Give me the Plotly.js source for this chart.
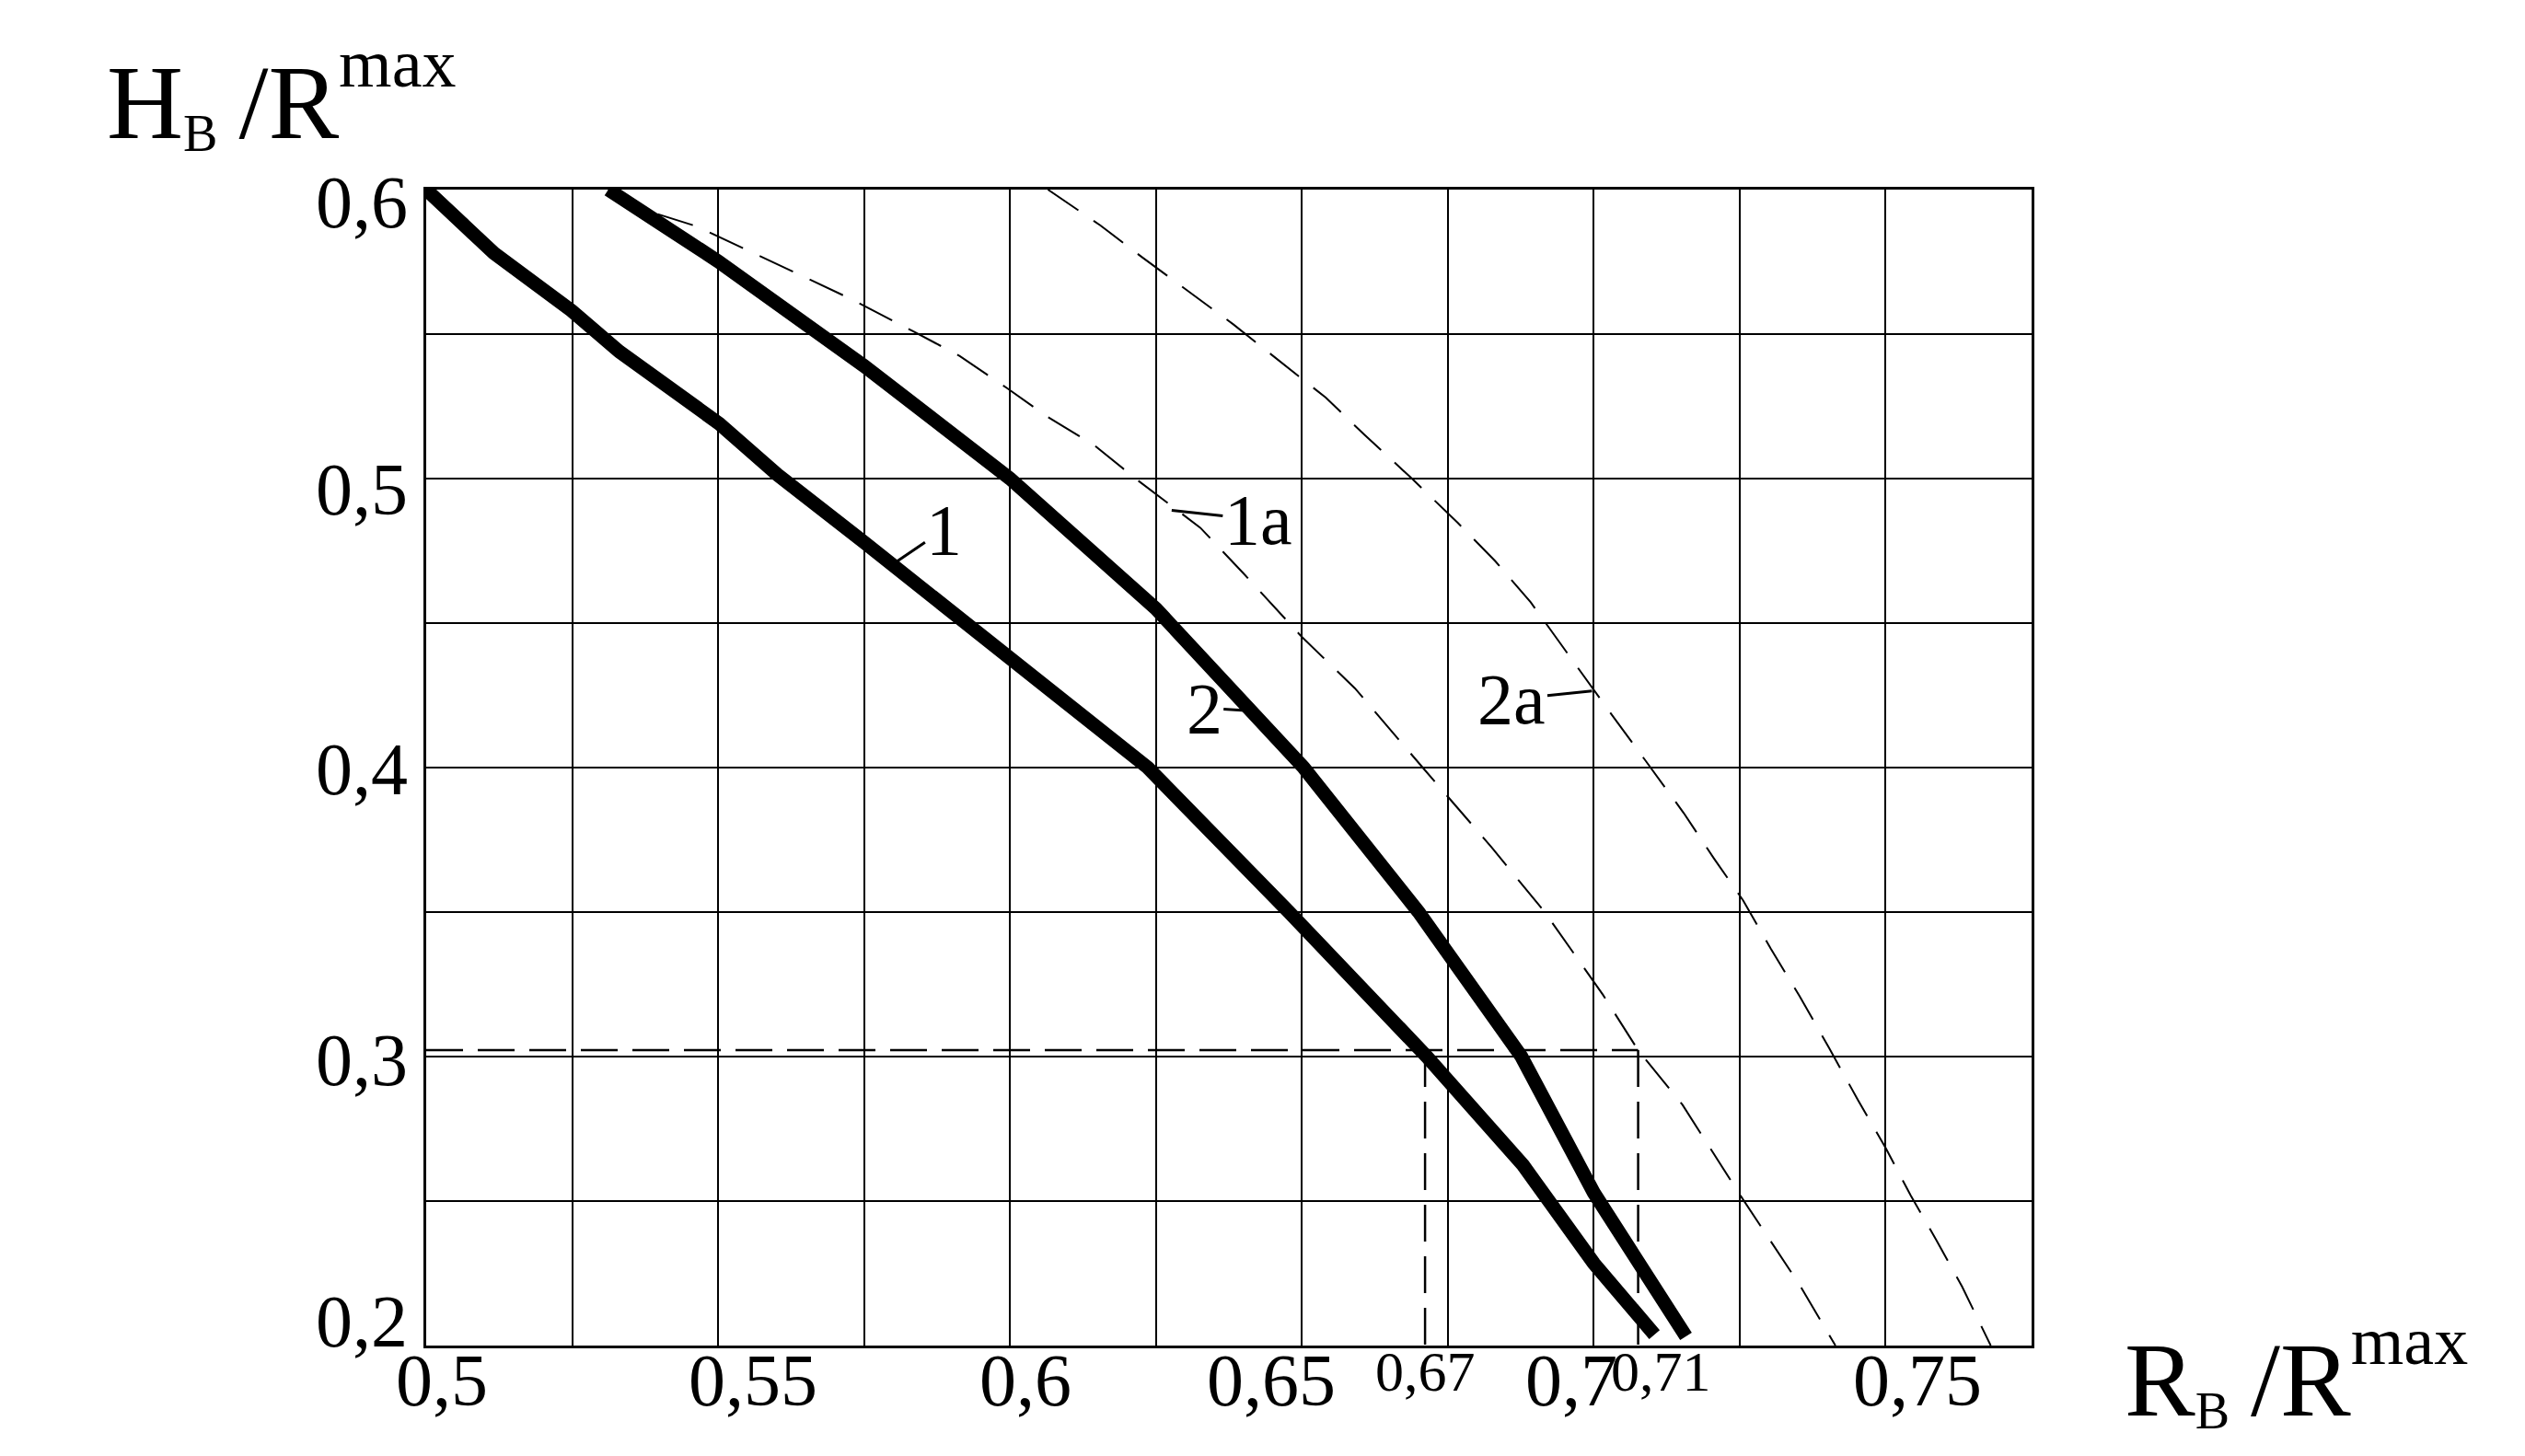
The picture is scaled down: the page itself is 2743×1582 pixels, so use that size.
<!DOCTYPE html>
<html>
<head>
<meta charset="utf-8">
<script src="https://cdn.plot.ly/plotly-3.0.1.min.js"></script>
<style>html,body{margin:0;padding:0;background:#fff;}#chart{width:2743px;height:1582px;}</style>
</head>
<body>
<div id="chart"></div>
<script>
// ---- data ----
const curve1X = [0.5, 0.5116, 0.5249, 0.5331, 0.5502, 0.5602, 0.5751, 0.5924, 0.6001, 0.6104, 0.6236, 0.6478, 0.6714, 0.6879, 0.7, 0.7104];
const curve1Y = [0.6, 0.578, 0.5581, 0.5439, 0.519, 0.5013, 0.4778, 0.4501, 0.4381, 0.4217, 0.4, 0.35, 0.3, 0.2624, 0.2285, 0.2038];

const curve2X = [0.5312, 0.55, 0.575, 0.6, 0.625, 0.6406, 0.6503, 0.67, 0.675, 0.6876, 0.7, 0.708, 0.7158];
const curve2Y = [0.6, 0.5752, 0.539, 0.5, 0.455, 0.4216, 0.4, 0.35, 0.336, 0.3, 0.2529, 0.2278, 0.2032];

const curve1aX = [0.5312, 0.5383, 0.5463, 0.5553, 0.5634, 0.5724, 0.5834, 0.5914, 0.5995, 0.6065, 0.6146, 0.6215, 0.6326, 0.64, 0.65, 0.6591, 0.6707, 0.6825, 0.6916, 0.7016, 0.7076, 0.7152, 0.725, 0.7352, 0.7414];
const curve1aY = [0.6, 0.5924, 0.5873, 0.5787, 0.571, 0.5625, 0.551, 0.5424, 0.5313, 0.5213, 0.5113, 0.5, 0.483, 0.4672, 0.4452, 0.4274, 0.4, 0.3724, 0.35, 0.3213, 0.3022, 0.2833, 0.2523, 0.2212, 0.2];

const curve2aX = [0.6065, 0.6155, 0.6225, 0.6296, 0.6383, 0.6446, 0.6541, 0.6607, 0.6689, 0.6767, 0.6831, 0.6892, 0.697, 0.7026, 0.7089, 0.7154, 0.7206, 0.7256, 0.7303, 0.7352, 0.7403, 0.7453, 0.75, 0.7543, 0.7586, 0.7631, 0.768];
const curve2aY = [0.6, 0.5876, 0.5768, 0.5663, 0.5533, 0.5432, 0.528, 0.5152, 0.4999, 0.4847, 0.4715, 0.4572, 0.4352, 0.4196, 0.4023, 0.3843, 0.3685, 0.354, 0.3374, 0.3211, 0.303, 0.2848, 0.2684, 0.2519, 0.2368, 0.2204, 0.2];

// guide lines (dashed) : level and the two read-off abscissas
const guideLevel = 0.3022;
const guideXs = [0.6711, 0.7076];

// axes
const xRange = [0.5, 0.775];
const yRange = [0.2, 0.6];
const xTickVals = [0.5, 0.55, 0.6, 0.65, 0.67, 0.70, 0.71, 0.75];
const xTickText = ['0,5', '0,55', '0,6', '0,65', '0,67', '0,7', '0,71', '0,75'];
const yTickVals = [0.2, 0.3, 0.4, 0.5, 0.6];
const yTickText = ['0,2', '0,3', '0,4', '0,5', '0,6'];

// curve labels: name, anchor point on curve
const curveLabelText = ['1', '1a', '2', '2a'];
const curveLabelX = [0.5804, 0.6277, 0.641, 0.6997];
const curveLabelY = [0.471, 0.489, 0.4197, 0.4265];

// axis title parts: main, subscript, main, superscript
const yTitleParts = ['H', 'B', '\u2009/R', 'max'];
const xTitleParts = ['R', 'B', '\u2009/R', 'max'];

// ---- styles ----
const FONT = 'Liberation Serif, Times New Roman, serif';
const xTickSize = [80, 80, 80, 80, 62, 80, 62, 80];
const xTickShift = [17, 38, 17, -33, 7, -24, 10, 35];
const yTickShift = [26, -4, -2, -12, -14];
const labelOffsetX = [53, 94, -49, -87];
const labelOffsetY = [-36, 10, -3, 9];

const thick = {color: '#000', width: 15};
const thin = {color: '#000', width: 2, dash: '40px,20px'};
const guide = {color: '#000', width: 2.5, dash: '40px,16px'};

// sub/superscripts via baseline-shift so that no zero-width helper texts are created
function titleHtml(p) {
  return '<span style="font-size:115px">' + p[0] + '</span>' +
         '<span style="font-size:56px;baseline-shift:-14px">' + p[1] + '</span>' +
         '<span style="font-size:115px">' + p[2] + '</span>' +
         '<span style="font-size:74px;baseline-shift:56px">' + p[3] + '</span>';
}

const traces = [];
// horizontal guide from the left axis to the last read-off point
traces.push({x: [xRange[0], Math.max(...guideXs)], y: [guideLevel, guideLevel], mode: 'lines', line: guide, hoverinfo: 'skip'});
// vertical guides down to the bottom axis
const gx = [], gy = [];
guideXs.forEach(v => { gx.push(v, v, null); gy.push(guideLevel, yRange[0], null); });
traces.push({x: gx, y: gy, mode: 'lines', line: guide, hoverinfo: 'skip'});
traces.push({x: curve1aX, y: curve1aY, mode: 'lines', line: thin, name: '1a'});
traces.push({x: curve2aX, y: curve2aY, mode: 'lines', line: thin, name: '2a'});
traces.push({x: curve1X, y: curve1Y, mode: 'lines', line: thick, name: '1'});
traces.push({x: curve2X, y: curve2Y, mode: 'lines', line: thick, name: '2'});

const annotations = [];
xTickVals.forEach((v, i) => {
  annotations.push({x: v, y: 0, xref: 'x', yref: 'paper', text: xTickText[i], showarrow: false,
    xanchor: 'center', yanchor: 'top', xshift: xTickShift[i], yshift: 8,
    font: {family: FONT, size: xTickSize[i], color: '#000'}});
});
yTickVals.forEach((v, i) => {
  annotations.push({x: 0, y: v, xref: 'paper', yref: 'y', text: yTickText[i], showarrow: false,
    xanchor: 'right', yanchor: 'middle', xshift: -18, yshift: yTickShift[i],
    font: {family: FONT, size: 80, color: '#000'}});
});
curveLabelText.forEach((t, i) => {
  annotations.push({x: curveLabelX[i], y: curveLabelY[i], xref: 'x', yref: 'y', text: t,
    showarrow: true, arrowhead: 0, arrowwidth: 3, arrowcolor: '#000', standoff: 0,
    ax: labelOffsetX[i], ay: labelOffsetY[i],
    font: {family: FONT, size: 78, color: '#000'}});
});
// axis titles (drawn horizontally as in the reference)
annotations.push({x: -0.2, y: 1.083, xref: 'paper', yref: 'paper', xanchor: 'left', yanchor: 'middle',
  text: titleHtml(yTitleParts), showarrow: false, font: {family: FONT, size: 115, color: '#000'}});
annotations.push({x: 1.057, y: -0.022, xref: 'paper', yref: 'paper', xanchor: 'left', yanchor: 'middle',
  text: titleHtml(xTitleParts), showarrow: false, font: {family: FONT, size: 115, color: '#000'}});

const axisCommon = {showgrid: true, gridcolor: '#000', gridwidth: 2, showline: true, mirror: true,
  linecolor: '#000', linewidth: 3, ticks: '', showticklabels: false, zeroline: false, fixedrange: true};

const layout = {
  width: 2743, height: 1582,
  margin: {l: 463, r: 536, t: 206, b: 120, pad: 0},
  paper_bgcolor: '#fff', plot_bgcolor: '#fff',
  showlegend: false,
  font: {family: FONT, color: '#000'},
  xaxis: Object.assign({range: xRange, tick0: 0.5, dtick: 0.025}, axisCommon),
  yaxis: Object.assign({range: yRange, tick0: 0.2, dtick: 0.05}, axisCommon),
  annotations: annotations
};

Plotly.newPlot('chart', traces, layout, {staticPlot: true, displayModeBar: false});
</script>
</body>
</html>
